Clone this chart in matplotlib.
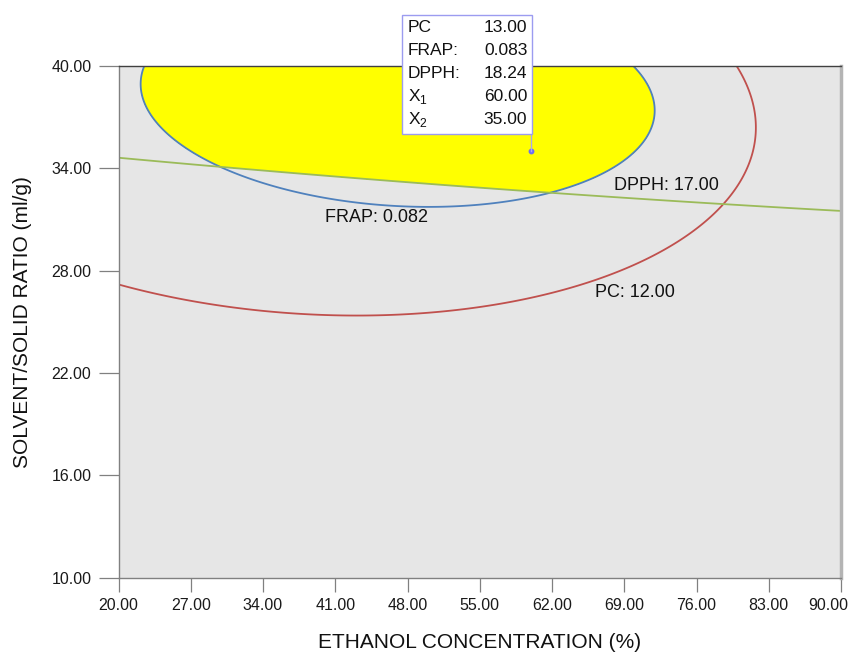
import numpy as np
import matplotlib
matplotlib.use("Agg")
import matplotlib.pyplot as plt
from matplotlib.patches import Rectangle
from matplotlib.transforms import IdentityTransform, ScaledTranslation

plt.rcParams["font.family"] = ["Liberation Sans", "DejaVu Sans"]
plt.rcParams["mathtext.fontset"] = "custom"
plt.rcParams["mathtext.rm"] = "Liberation Sans"

# Factor ranges and axis ticks
x1_range = [20.0, 90.0]          # ethanol concentration (%)
x2_range = [10.0, 40.0]          # solvent/solid ratio (ml/g)
x1_ticks = [20, 27, 34, 41, 48, 55, 62, 69, 76, 83, 90]
x2_ticks = [10, 16, 22, 28, 34, 40]

# Quadratic models in coded factors, terms: [1, A, B, AB, A^2, B^2]
# A = (X1 - 55) / 35, B = (X2 - 25) / 15
pc_coef = [11.8129, -0.6197, 3.3650, -0.2763, -0.9194, -2.0759]
frap_coef = [0.076100, -0.000378, 0.017549, -0.001484, -0.003698, -0.010189]
dpph_coef = [12.8593, 0.8214, 7.8981, 0.0, -0.1032, 0.0]

# Lower limits of the optimisation criteria
pc_limit = 12.00
frap_limit = 0.082
dpph_limit = 17.00

# Flagged point
flag_x1 = 60.00
flag_x2 = 35.00

col_pc = "#C0504D"
col_frap = "#4F81BD"
col_dpph = "#9BBB59"


def model(coef, x1, x2):
    a = (np.asarray(x1) - 55.0) / 35.0
    b = (np.asarray(x2) - 25.0) / 15.0
    return (coef[0] + coef[1] * a + coef[2] * b + coef[3] * a * b
            + coef[4] * a * a + coef[5] * b * b)


W, H = 849, 653
fig = plt.figure(figsize=(W / 100, H / 100), dpi=100)
ax_l, ax_r, ax_t, ax_b = 118.5, 841.0, 66.0, 577.5
ax = fig.add_axes([ax_l / W, (H - ax_b) / H, (ax_r - ax_l) / W, (ax_b - ax_t) / H])
ax.set_facecolor("#E6E6E6")
ax.set_xlim(*x1_range)
ax.set_ylim(*x2_range)

gx = np.linspace(x1_range[0], x1_range[1], 900)
gy = np.linspace(x2_range[0], x2_range[1], 700)
X1, X2 = np.meshgrid(gx, gy)
PC = model(pc_coef, X1, X2)
FRAP = model(frap_coef, X1, X2)
DPPH = model(dpph_coef, X1, X2)

# Overlay (sweet spot) region where all criteria are met
margin = np.minimum(np.minimum(PC - pc_limit, (FRAP - frap_limit) / 0.001),
                    DPPH - dpph_limit)
ax.contourf(X1, X2, margin, levels=[0, 1e9], colors=["#FFFF00"], zorder=1)

ax.contour(X1, X2, PC, levels=[pc_limit], colors=[col_pc], linewidths=1.3, zorder=2)
ax.contour(X1, X2, FRAP, levels=[frap_limit], colors=[col_frap], linewidths=1.3, zorder=2)
ax.contour(X1, X2, DPPH, levels=[dpph_limit], colors=[col_dpph], linewidths=1.3, zorder=2)

lab_kw = dict(fontsize=13, color="#111111", ha="center", va="center", zorder=4)
ax.text(45.0, 31.1, f"FRAP: {frap_limit:.3f}", **lab_kw)
ax.text(73.05, 33.02, f"DPPH: {dpph_limit:.2f}", **lab_kw)
ax.text(70.0, 26.70, f"PC: {pc_limit:.2f}", **lab_kw)

# Axes styling
ax.set_xticks(x1_ticks)
ax.set_yticks(x2_ticks)
ax.set_xticklabels([f"{v:.2f}" for v in x1_ticks])
ax.set_yticklabels([f"{v:.2f}" for v in x2_ticks])
ax.tick_params(axis="x", direction="out", length=10, width=0.9, color="#808080",
               labelsize=11.5, pad=5, labelcolor="#1a1a1a")
ax.tick_params(axis="y", direction="out", length=14.5, width=0.9, color="#808080",
               labelsize=11.5, pad=5, labelcolor="#1a1a1a")
# keep the last x label inside the canvas
last = ax.get_xticklabels()[-1]
last.set_horizontalalignment("right")
last.set_transform(last.get_transform() + ScaledTranslation(7 / 100, 0, fig.dpi_scale_trans))
for side, c, lw in [("left", "#808080", 1.0), ("bottom", "#808080", 1.0),
                    ("top", "#404040", 1.0), ("right", "#B4B4B4", 2.5)]:
    ax.spines[side].set_color(c)
    ax.spines[side].set_linewidth(lw)
ax.set_xlabel("ETHANOL CONCENTRATION (%)", fontsize=15, labelpad=14, color="#111111")
ax.set_ylabel("SOLVENT/SOLID RATIO (ml/g)", fontsize=15, labelpad=14, color="#111111")

# Flag with predicted responses
fx, fy = ax.transData.transform((flag_x1, flag_x2))
box_w, box_h, gap = 130.0, 119.0, 17.7
bx0, by0 = fx + 0.5 - box_w, fy + gap
ax.plot([flag_x1], [flag_x2], marker="o", ms=3.2, color="#6F6FF0", zorder=6)
fig.add_artist(plt.Line2D([fx, fx], [fy, by0], transform=IdentityTransform(),
                          color="#A8A8F0", lw=1.0, zorder=6))
fig.add_artist(Rectangle((bx0, by0), box_w, box_h, transform=IdentityTransform(),
                         facecolor="white", edgecolor="#9C9CF0", lw=1.0, zorder=7))
rows = [("PC", f"{float(model(pc_coef, flag_x1, flag_x2)):.2f}"),
        ("FRAP:", f"{float(model(frap_coef, flag_x1, flag_x2)):.3f}"),
        ("DPPH:", f"{float(model(dpph_coef, flag_x1, flag_x2)):.2f}"),
        (r"X$_\mathregular{1}$", f"{flag_x1:.2f}"),
        (r"X$_\mathregular{2}$", f"{flag_x2:.2f}")]
for i, (name, val) in enumerate(rows):
    ty = by0 + box_h - 13.0 - 23.1 * i
    fig.text(bx0 + 6, ty, name, transform=IdentityTransform(), fontsize=12.5,
             ha="left", va="center", color="#111111", zorder=8)
    fig.text(bx0 + box_w - 4.5, ty, val, transform=IdentityTransform(), fontsize=12.5,
             ha="right", va="center", color="#111111", zorder=8)

fig.savefig("out.png", dpi=100, facecolor="white")
